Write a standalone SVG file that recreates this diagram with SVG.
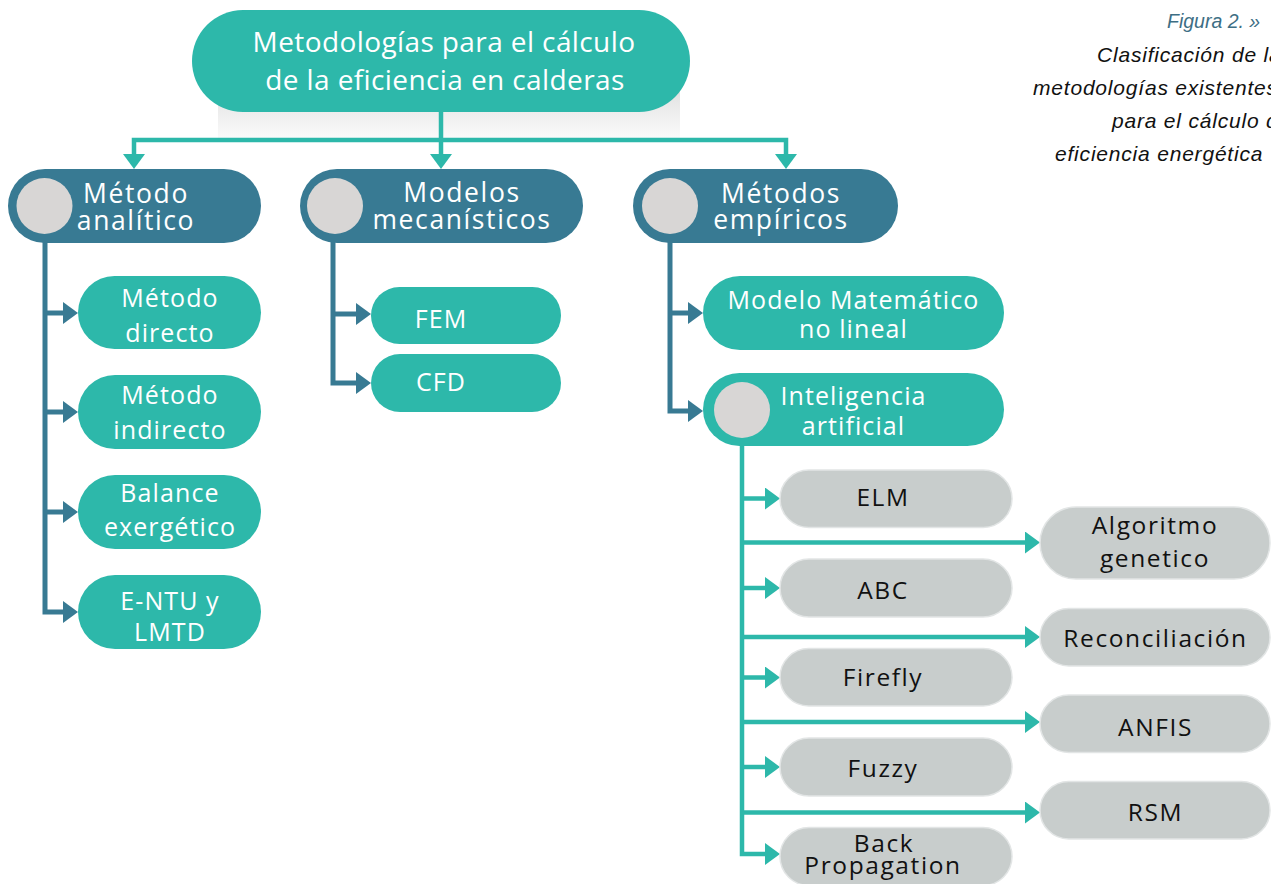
<svg xmlns="http://www.w3.org/2000/svg" width="1271" height="884" viewBox="0 0 1271 884">
<defs>
<style>
.teal{fill:#2db8aa}
.blue{fill:#387a93}
.gray{fill:#c8cdcc;stroke:#e2e5e5;stroke-width:1.5}
.circ{fill:#d8d6d5}
.tw{fill:#ffffff;font-family:"Open Sans","Noto Sans",sans-serif;text-anchor:middle;letter-spacing:0.4px}
.tk{fill:#111111;font-family:"Open Sans","Noto Sans",sans-serif;text-anchor:middle;letter-spacing:1.6px;font-size:24.5px}
.f28{font-size:28px}
.f26{font-size:26.5px;letter-spacing:1.6px}
.f25{font-size:25px;letter-spacing:1.1px}
.cap{font-family:"Liberation Sans",Arial,sans-serif;font-style:italic;font-size:21px;letter-spacing:0.8px;fill:#111111}
.lt{fill:none;stroke:#2db8aa;stroke-width:4.5}
.lb{fill:none;stroke:#387a93;stroke-width:5}
</style>
<linearGradient id="shadow" x1="0" y1="0" x2="0" y2="1">
<stop offset="0" stop-color="#d6d6d6"/>
<stop offset="0.55" stop-color="#ebebeb"/>
<stop offset="1" stop-color="#fafafa"/>
</linearGradient>
<marker id="aT" markerUnits="userSpaceOnUse" markerWidth="16" markerHeight="24" refX="0" refY="11" orient="auto">
<path d="M0,0 L15,11 L0,22 Z" fill="#2db8aa"/>
</marker>
<marker id="aB" markerUnits="userSpaceOnUse" markerWidth="16" markerHeight="24" refX="0" refY="11" orient="auto">
<path d="M0,0 L15,11 L0,22 Z" fill="#387a93"/>
</marker>
</defs>

<rect x="218" y="70" width="462" height="68" fill="url(#shadow)"/>

<g id="caption">
<text class="cap" x="1167" y="28" style="fill:#3d6e84;font-size:19.5px;letter-spacing:0px">Figura 2. »</text>
<text class="cap" x="1097" y="62">Clasificación de las</text>
<text class="cap" x="1033" y="95">metodologías existentes</text>
<text class="cap" x="1112" y="128">para el cálculo de</text>
<text class="cap" x="1055" y="161">eficiencia energética</text>
</g>

<g id="connectors">
<path class="lt" d="M441,112 V154" marker-end="url(#aT)"/>
<path class="lt" d="M441,140 H134 V154" marker-end="url(#aT)"/>
<path class="lt" d="M441,140 H786 V154" marker-end="url(#aT)"/>

<path class="lb" d="M45,234 V612 H63" marker-end="url(#aB)"/>
<path class="lb" d="M45,313 H63" marker-end="url(#aB)"/>
<path class="lb" d="M45,412 H63" marker-end="url(#aB)"/>
<path class="lb" d="M45,512 H63" marker-end="url(#aB)"/>

<path class="lb" d="M333,234 V383 H356" marker-end="url(#aB)"/>
<path class="lb" d="M333,314 H356" marker-end="url(#aB)"/>

<path class="lb" d="M670,234 V411 H688" marker-end="url(#aB)"/>
<path class="lb" d="M670,313 H688" marker-end="url(#aB)"/>

<path class="lt" d="M742,438 V854 H765" marker-end="url(#aT)"/>
<path class="lt" d="M742,498.5 H765" marker-end="url(#aT)"/>
<path class="lt" d="M742,588 H765" marker-end="url(#aT)"/>
<path class="lt" d="M742,677.5 H765" marker-end="url(#aT)"/>
<path class="lt" d="M742,767 H765" marker-end="url(#aT)"/>
<path class="lt" d="M742,542.5 H1025" marker-end="url(#aT)"/>
<path class="lt" d="M742,637 H1025" marker-end="url(#aT)"/>
<path class="lt" d="M742,722 H1025" marker-end="url(#aT)"/>
<path class="lt" d="M742,812.5 H1025" marker-end="url(#aT)"/>
</g>

<g id="n-root">
<rect class="teal" x="192" y="10" width="498" height="102" rx="51"/>
<text class="tw f28" x="444" y="52">Metodologías para el cálculo</text>
<text class="tw f28" x="445" y="90">de la eficiencia en calderas</text>
</g>

<g id="n-analitico">
<rect class="blue" x="8" y="169" width="253" height="74" rx="37"/>
<circle class="circ" cx="44.5" cy="206" r="28"/>
<text class="tw f26" x="136" y="203">Método</text>
<text class="tw f26" x="136" y="230">analítico</text>
</g>

<g id="n-mecanisticos">
<rect class="blue" x="300" y="169" width="283" height="74" rx="37"/>
<circle class="circ" cx="335" cy="206" r="28"/>
<text class="tw f26" x="462" y="202">Modelos</text>
<text class="tw f26" x="462" y="229">mecanísticos</text>
</g>

<g id="n-empiricos">
<rect class="blue" x="633" y="169" width="265" height="74" rx="37"/>
<circle class="circ" cx="670" cy="206" r="28"/>
<text class="tw f26" x="781" y="203">Métodos</text>
<text class="tw f26" x="781" y="229">empíricos</text>
</g>

<g id="n-directo">
<rect class="teal" x="78" y="276" width="183" height="73" rx="36.5"/>
<text class="tw f25" x="170" y="307">Método</text>
<text class="tw f25" x="170" y="342">directo</text>
</g>
<g id="n-indirecto">
<rect class="teal" x="78" y="375" width="183" height="74" rx="37"/>
<text class="tw f25" x="170" y="404">Método</text>
<text class="tw f25" x="170" y="439">indirecto</text>
</g>
<g id="n-exergetico">
<rect class="teal" x="78" y="475" width="183" height="74" rx="37"/>
<text class="tw f25" x="170" y="502">Balance</text>
<text class="tw f25" x="170" y="536">exergético</text>
</g>
<g id="n-entu">
<rect class="teal" x="78" y="575" width="183" height="74" rx="37"/>
<text class="tw f25" x="170" y="610">E-NTU y</text>
<text class="tw f25" x="170" y="641">LMTD</text>
</g>

<g id="n-fem">
<rect class="teal" x="371" y="287" width="190" height="57" rx="28.5"/>
<text class="tw f25" x="441" y="328">FEM</text>
</g>
<g id="n-cfd">
<rect class="teal" x="371" y="354" width="190" height="58" rx="29"/>
<text class="tw f25" x="441" y="391">CFD</text>
</g>

<g id="n-matematico">
<rect class="teal" x="703" y="276" width="301" height="74" rx="37"/>
<text class="tw f25" x="853.5" y="309">Modelo Matemático</text>
<text class="tw f25" x="853.5" y="338">no lineal</text>
</g>
<g id="n-ia">
<rect class="teal" x="703" y="373" width="301" height="73" rx="36.5"/>
<circle class="circ" cx="742" cy="410" r="28"/>
<text class="tw f25" x="853.5" y="405">Inteligencia</text>
<text class="tw f25" x="853.5" y="435">artificial</text>
</g>

<g id="n-elm">
<rect class="gray" x="780" y="470" width="232" height="57.5" rx="28.75"/>
<text class="tk" x="883" y="506">ELM</text>
</g>
<g id="n-abc">
<rect class="gray" x="780" y="559" width="232" height="58" rx="29"/>
<text class="tk" x="883" y="599">ABC</text>
</g>
<g id="n-firefly">
<rect class="gray" x="780" y="648.5" width="232" height="57.5" rx="28.75"/>
<text class="tk" x="883" y="686">Firefly</text>
</g>
<g id="n-fuzzy">
<rect class="gray" x="780" y="738" width="232" height="58" rx="29"/>
<text class="tk" x="883" y="777">Fuzzy</text>
</g>
<g id="n-backprop">
<rect class="gray" x="780" y="827.5" width="232" height="58" rx="29"/>
<text class="tk" x="884" y="851.5">Back</text>
<text class="tk" x="883" y="874">Propagation</text>
</g>

<g id="n-genetico">
<rect class="gray" x="1040" y="507" width="230" height="72" rx="36"/>
<text class="tk" x="1155" y="534">Algoritmo</text>
<text class="tk" x="1155" y="567">genetico</text>
</g>
<g id="n-reconciliacion">
<rect class="gray" x="1040" y="608.5" width="230" height="57.5" rx="28.75"/>
<text class="tk" x="1155.5" y="647">Reconciliación</text>
</g>
<g id="n-anfis">
<rect class="gray" x="1040" y="695" width="230" height="57.5" rx="28.75"/>
<text class="tk" x="1155.5" y="735.5">ANFIS</text>
</g>
<g id="n-rsm">
<rect class="gray" x="1040" y="781.5" width="230" height="57.5" rx="28.75"/>
<text class="tk" x="1155.5" y="820.5">RSM</text>
</g>
</svg>
